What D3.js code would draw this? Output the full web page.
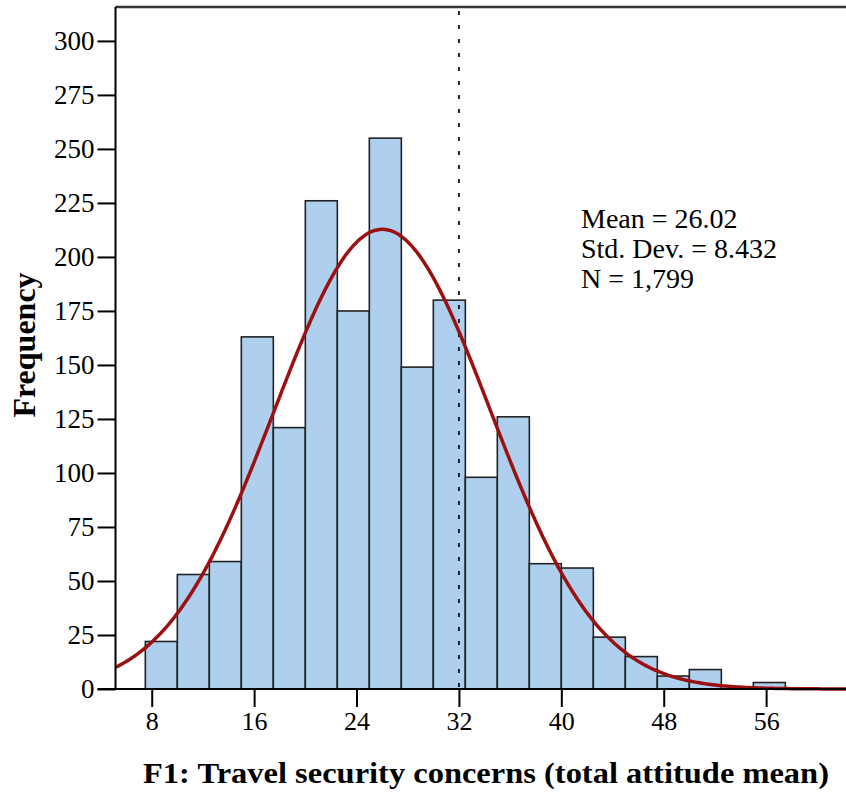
<!DOCTYPE html>
<html>
<head>
<meta charset="utf-8">
<script src="https://cdn.jsdelivr.net/npm/d3@7"></script>
<style>
  html, body { margin: 0; padding: 0; background: #fff; }
  svg { display: block; }
  text { font-family: "Liberation Serif", "Times New Roman", serif; fill: #000; }
</style>
</head>
<body>
<svg id="chart" width="846" height="796"></svg>
<script>
// Histogram bins: lower edge of each bin (width 2.5) and its frequency
const binStarts = [7.5, 10, 12.5, 15, 17.5, 20, 22.5, 25, 27.5, 30,
                   32.5, 35, 37.5, 40, 42.5, 45, 47.5, 50, 52.5, 55];
const counts    = [22, 53, 59, 163, 121, 226, 175, 255, 149, 180,
                   98, 126, 58, 56, 24, 15, 6, 9, 0, 3];
const binWidth = 2.5;

// Summary statistics shown in the legend box
const statMean = 26.02;
const statSD = 8.432;
const statN = 1799;
const statLines = ["Mean = 26.02", "Std. Dev. = 8.432", "N = 1,799"];

// Axis ticks
const xTicks = [8, 16, 24, 32, 40, 48, 56];
const yTicks = [0, 25, 50, 75, 100, 125, 150, 175, 200, 225, 250, 275, 300];
const refLine = 32;

const xLabel = "F1: Travel security concerns (total attitude mean)";
const yLabel = "Frequency";

const svg = d3.select("#chart");
const plotL = 115.5, plotR = 846, plotT = 7, plotB = 689;

const x = d3.scaleLinear().domain([5.17, 62.24]).range([plotL, plotR]);
const y = d3.scaleLinear().domain([0, 315.7]).range([plotB, plotT]);

// Bars
svg.append("g").selectAll("rect")
  .data(binStarts.map((s, i) => ({ s, c: counts[i] })).filter(d => d.c > 0))
  .join("rect")
  .attr("x", d => x(d.s))
  .attr("y", d => y(d.c))
  .attr("width", d => x(d.s + binWidth) - x(d.s))
  .attr("height", d => y(0) - y(d.c))
  .attr("fill", "#aecfee")
  .attr("stroke", "#222")
  .attr("stroke-width", 1.6);

// Dotted reference line
svg.append("line")
  .attr("x1", x(refLine)).attr("x2", x(refLine))
  .attr("y1", plotT + 4).attr("y2", plotB)
  .attr("stroke", "#222")
  .attr("stroke-width", 2)
  .attr("stroke-dasharray", "4,10");

// Fitted normal curve scaled to counts
const pdf = v => Math.exp(-0.5 * ((v - statMean) / statSD) ** 2) / (statSD * Math.sqrt(2 * Math.PI));
const curvePts = d3.range(x.domain()[0], x.domain()[1] + 0.05, 0.1)
  .map(v => [v, statN * binWidth * pdf(v)]);
svg.append("path")
  .datum(curvePts)
  .attr("fill", "none")
  .attr("stroke", "#9b1111")
  .attr("stroke-width", 3.5)
  .attr("d", d3.line().x(d => x(d[0])).y(d => y(d[1])).curve(d3.curveBasis));

// Frame: top border
svg.append("line")
  .attr("x1", plotL).attr("x2", plotR)
  .attr("y1", plotT).attr("y2", plotT)
  .attr("stroke", "#333").attr("stroke-width", 2.5);

// Y axis
const yAxis = svg.append("g")
  .attr("transform", `translate(${plotL},0)`)
  .call(d3.axisLeft(y).tickValues(yTicks).tickSize(18).tickPadding(3));
yAxis.select(".domain").remove();
yAxis.append("line")
  .attr("x1", 0).attr("x2", 0).attr("y1", plotT).attr("y2", plotB)
  .attr("stroke", "#000").attr("stroke-width", 2);
yAxis.selectAll(".tick line").attr("stroke", "#000").attr("stroke-width", 2);
yAxis.selectAll(".tick text")
  .attr("font-family", "Liberation Serif, serif")
  .attr("font-size", 27).attr("fill", "#000");

// X axis
const xAxis = svg.append("g")
  .attr("transform", `translate(0,${plotB})`)
  .call(d3.axisBottom(x).tickValues(xTicks).tickSize(18).tickPadding(5));
xAxis.select(".domain").remove();
xAxis.append("line")
  .attr("x1", plotL - 18).attr("x2", plotR).attr("y1", 0).attr("y2", 0)
  .attr("stroke", "#000").attr("stroke-width", 2);
xAxis.selectAll(".tick line").attr("stroke", "#000").attr("stroke-width", 2);
xAxis.selectAll(".tick text")
  .attr("font-family", "Liberation Serif, serif")
  .attr("font-size", 26).attr("fill", "#000");

// Axis titles
svg.append("text")
  .attr("x", 143).attr("y", 783)
  .attr("font-size", 30).attr("font-weight", "bold")
  .attr("textLength", 686).attr("lengthAdjust", "spacingAndGlyphs")
  .text(xLabel);

svg.append("text")
  .attr("transform", "translate(35,345) rotate(-90)")
  .attr("text-anchor", "middle")
  .attr("font-size", 32).attr("font-weight", "bold")
  .text(yLabel);

// Statistics box
svg.append("g").selectAll("text")
  .data(statLines)
  .join("text")
  .attr("x", 581)
  .attr("y", (d, i) => 228 + i * 30)
  .attr("font-size", 28)
  .text(d => d);
</script>
</body>
</html>
